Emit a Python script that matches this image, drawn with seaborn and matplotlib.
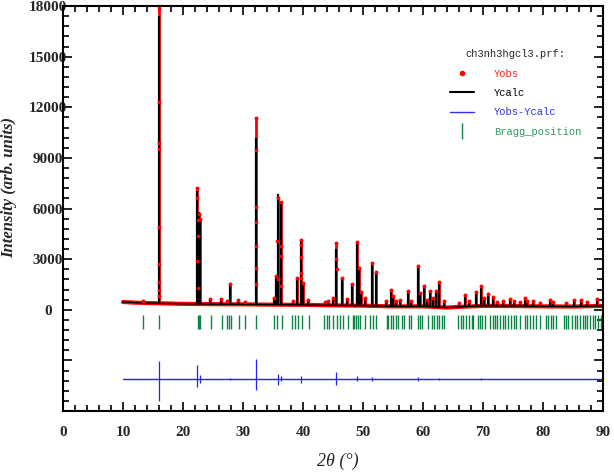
import numpy as np
import matplotlib
matplotlib.use("Agg")
import matplotlib.pyplot as plt
from matplotlib.lines import Line2D
from matplotlib.ticker import MultipleLocator
import seaborn as sns

# background level of the pattern (2theta, counts)
bg_x = [10, 12, 15, 20, 25, 30, 35, 40, 45, 50, 55, 60, 64, 66, 70, 75, 80, 85, 90]
bg_y = [460, 420, 390, 350, 330, 320, 300, 290, 260, 240, 200, 200, 130, 170, 230, 220, 200, 190, 230]

# reflections: position, calculated top, observed top, background under it
peak_pos = [13.3, 16.0, 22.4, 22.62, 22.85, 24.5, 26.3, 27.3, 27.84, 29.2, 30.35, 32.17,
            35.2, 35.55, 35.78, 36.33, 38.3, 38.95, 39.67, 40.05, 40.9, 43.6, 44.1, 44.95,
            45.56, 46.44, 47.4, 48.22, 48.94, 49.28, 49.6, 50.3, 51.45, 52.1, 53.9, 54.6,
            55.0, 55.5, 56.2, 57.56, 58.0, 59.1, 59.5, 60.2, 60.6, 61.17, 61.7, 62.17,
            62.7, 63.5, 66.0, 67.0, 67.6, 68.9, 69.67, 70.1, 70.9, 71.7, 72.4, 73.3,
            74.5, 75.1, 76.1, 77.0, 77.4, 78.4, 79.5, 81.2, 81.7, 83.8, 85.2, 86.3,
            87.4, 89.0]
peak_calc = [480, 17400, 7050, 5800, 5300, 580, 600, 480, 1500, 580, 420, 10150,
             700, 1900, 6850, 6300, 500, 1850, 4100, 1500, 580, 420, 480, 680,
             3600, 1800, 600, 1500, 4000, 2450, 1000, 650, 2700, 2200, 480, 1150,
             780, 480, 520, 1100, 480, 2550, 950, 1400, 580, 1100, 680, 1050,
             1600, 500, 380, 850, 480, 1000, 1300, 680, 900, 700, 430, 480,
             600, 480, 430, 650, 480, 500, 380, 580, 430, 380, 580, 560,
             430, 620]
peak_obs = [500, 17900, 7200, 5700, 5350, 620, 650, 500, 1550, 600, 430, 11350,
            720, 2000, 6650, 6360, 520, 1900, 4150, 1600, 600, 450, 500, 700,
            3980, 1900, 650, 1550, 4000, 2500, 1050, 700, 2750, 2260, 500, 1190,
            800, 500, 550, 1130, 500, 2600, 1000, 1430, 600, 1130, 700, 1090,
            1620, 530, 400, 890, 500, 1030, 1380, 700, 950, 730, 450, 500,
            630, 500, 450, 700, 500, 530, 400, 600, 450, 400, 600, 600,
            450, 650]
peak_base = [410, 390, 350, 350, 348, 340, 335, 330, 330, 322, 320, 315,
             300, 300, 300, 298, 292, 290, 290, 290, 285, 265, 262, 258,
             255, 252, 246, 242, 240, 240, 240, 235, 230, 225, 210, 205,
             200, 200, 200, 200, 200, 200, 200, 200, 190, 180, 170, 160,
             155, 140, 170, 190, 200, 220, 230, 230, 230, 228, 226, 224,
             222, 220, 215, 210, 208, 205, 200, 198, 196, 193, 190, 200,
             210, 225]

# observed points on the flanks of the strong peaks
flank_x = [15.96, 15.98, 16.02, 16.04, 15.94, 16.06, 15.92, 16.08,
           22.36, 22.43, 22.5, 22.33, 22.55,
           32.14, 32.2, 32.12, 32.22, 32.1, 32.24,
           35.74, 35.84, 36.3, 36.38, 36.41,
           39.64, 39.7, 39.61, 39.74, 45.52, 45.6]
flank_y = [12300, 9900, 9500, 4900, 2700, 1650, 1200, 800,
           6600, 5300, 4400, 2900, 1300,
           9450, 6100, 5200, 3800, 2500, 1500,
           4100, 1800, 3800, 3200, 1400,
           3850, 3100, 2200, 1900, 3000, 2400]

# difference curve (Yobs - Ycalc), drawn with an offset
diff_offset = -4100
diff_pos = [16.0, 22.4, 22.85, 27.84, 32.17, 35.78, 36.33, 39.67, 45.56, 48.94, 51.45, 59.1, 62.7, 69.67]
diff_up = [1050, 800, 250, 60, 1200, 320, 200, 200, 400, 150, 100, 120, 80, 80]
diff_down = [1330, 480, 250, 60, 670, 330, 150, 270, 360, 150, 100, 100, 80, 80]

# Bragg reflection markers
bragg_pos = [13.28, 16.0, 22.45, 22.67, 22.89, 24.61, 26.44, 27.28, 27.61, 27.94, 29.28, 30.33,
             32.17, 35.17, 35.61, 36.44, 38.22, 38.67, 39.11, 39.89, 41.06, 43.56, 43.94,
             44.39, 45.06, 45.61, 46.17, 46.72, 47.44, 48.28, 48.56, 48.83, 49.11, 49.5,
             50.33, 51.17, 51.72, 52.11, 53.94, 54.22, 54.67, 55.06, 55.5, 55.89, 56.44,
             56.89, 57.67, 58.0, 59.11, 59.5, 59.89, 60.89, 61.44, 61.83, 62.28, 62.67,
             63.11, 63.5, 65.9, 66.3, 66.7, 67.2, 67.6, 68.1, 68.4, 69.2, 69.5, 69.9,
             70.3, 71.2, 71.6, 72.0, 72.4, 72.8, 73.3, 73.7, 74.2, 74.6, 75.1, 75.5,
             76.1, 77.0, 77.4, 77.8, 78.3, 78.9, 79.5, 80.5, 80.9, 81.3, 81.7, 82.2,
             83.5, 83.8, 84.2, 84.9, 85.3, 85.7, 86.2, 86.6, 87.0, 87.4, 87.8, 88.3,
             88.7, 89.2, 89.7]
bragg_top = -340
bragg_bottom = -1170

y_ticks = [-6000, -3000, 0, 3000, 6000, 9000, 12000, 15000, 18000]
y_labels = ["", "", "0", "3000", "6000", "9000", "12000", "15000", "18000"]

sns.set_style("ticks")
plt.rcParams["font.family"] = ["Liberation Serif", "DejaVu Serif"]

fig = plt.figure(figsize=(6.14, 4.74), dpi=100)
ax = fig.add_axes([63 / 614, 1 - 411 / 474, 540 / 614, 405 / 474])

# Yobs: red band along the background and red spikes/dots
sns.lineplot(x=bg_x, y=bg_y, color="red", lw=3.0, ax=ax, zorder=2)
ax.vlines(peak_pos, peak_base, peak_obs, color="red", lw=2.0, zorder=2)
# Ycalc
sns.lineplot(x=bg_x, y=bg_y, color="black", lw=1.0, ax=ax, zorder=3)
ax.vlines(peak_pos, peak_base, peak_calc, color="black", lw=1.6, zorder=3)
sns.scatterplot(x=peak_pos, y=peak_obs, color="red", s=8, linewidth=0, ax=ax, zorder=4)
sns.scatterplot(x=flank_x, y=flank_y, color="red", s=7, linewidth=0, ax=ax, zorder=4)

# difference
sns.lineplot(x=bg_x, y=np.full(len(bg_x), diff_offset), color="#2020ff", lw=1.0, ax=ax)
ax.vlines(diff_pos, diff_offset - np.array(diff_down), diff_offset + np.array(diff_up),
          color="#2020ff", lw=0.9)

# Bragg positions
ax.vlines(bragg_pos, bragg_bottom, bragg_top, color="#0a8544", lw=1)

ax.set_xlim(0, 90)
ax.set_ylim(-6000, 18000)
ax.xaxis.set_major_locator(MultipleLocator(10))
ax.xaxis.set_minor_locator(MultipleLocator(2))
ax.set_yticks(y_ticks, y_labels)
ax.yaxis.set_minor_locator(MultipleLocator(600))
ax.tick_params(which="both", direction="in", top=True, right=True, width=1.2, color="black")
ax.tick_params(which="major", length=6.5)
ax.tick_params(which="minor", length=4)
ax.tick_params(axis="y", pad=10.8, labelsize=11)
ax.tick_params(axis="x", pad=11, labelsize=11)
for lbl in ax.get_yticklabels():
    lbl.set_ha("center")
    lbl.set_fontweight("bold")
for lbl in ax.get_xticklabels():
    lbl.set_fontweight("bold")
for sp in ax.spines.values():
    sp.set_linewidth(1.5)
    sp.set_color("black")

ax.set_xlabel("2θ (°)", fontsize=13, fontstyle="italic")
ax.xaxis.set_label_coords(0.509, -0.104)
ax.set_ylabel("Intensity (arb. units)", fontsize=12, fontstyle="italic", fontweight="bold")
ax.yaxis.set_label_coords(-0.084, 0.553)

handles = [Line2D([], [], ls="none", marker="o", color="red", ms=3),
           Line2D([], [], color="black", lw=1.5),
           Line2D([], [], color="#3030ff", lw=1),
           Line2D([], [], ls="none", marker="|", color="#0a8544", ms=11, mew=1)]
labels = ["Yobs", "Ycalc", "Yobs-Ycalc", "Bragg_position"]
ax.legend(handles, labels, title="ch3nh3hgcl3.prf:", loc="upper left",
          bbox_to_anchor=(0.707, 0.906), frameon=False, borderpad=0,
          prop={"family": "Liberation Mono", "size": 7.5},
          title_fontproperties={"family": "Liberation Mono", "size": 7.5},
          handlelength=2.3, handletextpad=1.9, labelspacing=0.9,
          labelcolor=["#ff2020", "black", "#3030e0", "#2e9960"])

fig.savefig("out.png", dpi=100)
